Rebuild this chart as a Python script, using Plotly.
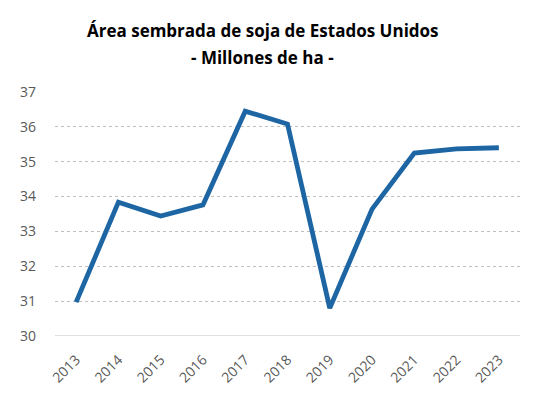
import plotly.graph_objects as go

years = ["2013", "2014", "2015", "2016", "2017", "2018", "2019", "2020", "2021", "2022", "2023"]
area = [30.97, 33.84, 33.44, 33.76, 36.45, 36.08, 30.80, 33.64, 35.25, 35.37, 35.40]
y_ticks = [30, 31, 32, 33, 34, 35, 36, 37]
title_lines = ["Área sembrada de soja de Estados Unidos", "- Millones de ha -"]

fig = go.Figure()
fig.add_trace(go.Scatter(x=years, y=area, mode="lines",
                         line=dict(color="#1D66A3", width=4.8)))

fig.update_layout(
    width=542, height=398,
    margin=dict(l=45, r=30, t=84, b=70),
    paper_bgcolor="white", plot_bgcolor="white",
    showlegend=False,
    font=dict(family="Open Sans", size=13, color="#595959"),
)
for text, ypos in zip(title_lines, [1.254, 1.143]):
    fig.add_annotation(text="<b>" + text + "</b>", xref="paper", yref="paper",
                       x=0.4465, y=ypos, xanchor="center", yanchor="middle",
                       showarrow=False,
                       font=dict(family="Open Sans", size=17, color="black"))
fig.update_xaxes(type="category", range=[-0.5, len(years) - 0.5], tickangle=-45,
                 showgrid=False, showline=False, ticks="", ticklabelstandoff=12,
                 tickfont=dict(size=14, color="#595959"))
fig.update_yaxes(range=[30, 37], tickvals=y_ticks, showgrid=True,
                 gridcolor="#BFBFBF", griddash="dot", gridwidth=1,
                 zeroline=False, showline=False, ticks="", ticklabelstandoff=18,
                 tickfont=dict(size=14, color="#595959"))
fig.add_hline(y=30, line=dict(color="#BFBFBF", width=1.2))

fig.write_html("out.html")
